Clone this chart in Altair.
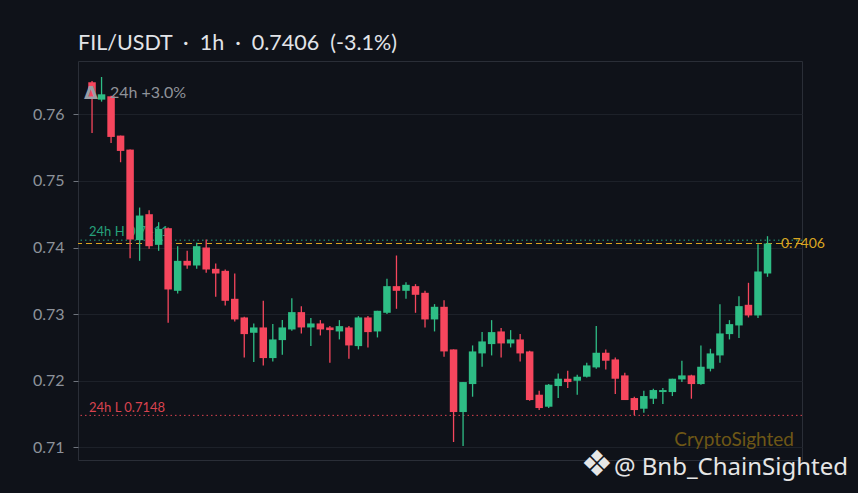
import altair as alt
import pandas as pd

# ---- data (FIL/USDT 1h candles) ----
opens = [0.7648, 0.7622, 0.7627, 0.7568, 0.7547, 0.7411, 0.7450, 0.7404, 0.7429, 0.7335,
         0.7380, 0.7373, 0.7400, 0.7368, 0.7365, 0.7323, 0.7295, 0.7272, 0.7280, 0.7234,
         0.7261, 0.7277, 0.7303, 0.7280, 0.7286, 0.7280, 0.7274, 0.7280, 0.7252, 0.7295,
         0.7274, 0.7302, 0.7342, 0.7335, 0.7342, 0.7332, 0.7292, 0.7311, 0.7247, 0.7153,
         0.7195, 0.7241, 0.7255, 0.7274, 0.7256, 0.7262, 0.7244, 0.7179, 0.7161, 0.7192,
         0.7203, 0.7200, 0.7206, 0.7220, 0.7242, 0.7232, 0.7208, 0.7174, 0.7158, 0.7173,
         0.7183, 0.7183, 0.7202, 0.7208, 0.7195, 0.7218, 0.7238, 0.7270, 0.7283, 0.7314,
         0.7298, 0.7361]
highs = [0.7650, 0.7656, 0.7628, 0.7568, 0.7547, 0.7460, 0.7456, 0.7438, 0.7430, 0.7402,
         0.7395, 0.7407, 0.7412, 0.7376, 0.7367, 0.7361, 0.7296, 0.7286, 0.7320, 0.7285,
         0.7291, 0.7324, 0.7312, 0.7294, 0.7291, 0.7282, 0.7291, 0.7282, 0.7297, 0.7297,
         0.7305, 0.7353, 0.7388, 0.7348, 0.7345, 0.7335, 0.7315, 0.7321, 0.7247, 0.7198,
         0.7253, 0.7273, 0.7291, 0.7279, 0.7276, 0.7270, 0.7245, 0.7185, 0.7195, 0.7211,
         0.7215, 0.7209, 0.7227, 0.7282, 0.7247, 0.7235, 0.7212, 0.7176, 0.7185, 0.7188,
         0.7189, 0.7203, 0.7230, 0.7209, 0.7253, 0.7248, 0.7315, 0.7291, 0.7327, 0.7347,
         0.7405, 0.7417]
lows = [0.7572, 0.7619, 0.7557, 0.7528, 0.7384, 0.7380, 0.7398, 0.7395, 0.7287, 0.7331,
        0.7368, 0.7368, 0.7362, 0.7326, 0.7313, 0.7289, 0.7235, 0.7228, 0.7223, 0.7229,
        0.7239, 0.7275, 0.7271, 0.7252, 0.7268, 0.7227, 0.7262, 0.7233, 0.7247, 0.7250,
        0.7265, 0.7300, 0.7308, 0.7323, 0.7302, 0.7280, 0.7274, 0.7236, 0.7108, 0.7102,
        0.7176, 0.7221, 0.7238, 0.7235, 0.7250, 0.7229, 0.7170, 0.7156, 0.7159, 0.7174,
        0.7189, 0.7179, 0.7205, 0.7218, 0.7217, 0.7180, 0.7171, 0.7148, 0.7152, 0.7165,
        0.7165, 0.7177, 0.7198, 0.7173, 0.7194, 0.7214, 0.7227, 0.7262, 0.7264, 0.7295,
        0.7294, 0.7356]
closes = [0.7623, 0.7630, 0.7566, 0.7545, 0.7412, 0.7448, 0.7402, 0.7428, 0.7337, 0.7380,
          0.7373, 0.7402, 0.7367, 0.7361, 0.7320, 0.7292, 0.7270, 0.7280, 0.7234, 0.7262,
          0.7280, 0.7303, 0.7280, 0.7286, 0.7277, 0.7276, 0.7282, 0.7253, 0.7295, 0.7273,
          0.7305, 0.7342, 0.7335, 0.7344, 0.7329, 0.7292, 0.7311, 0.7244, 0.7153, 0.7198,
          0.7244, 0.7259, 0.7273, 0.7256, 0.7262, 0.7241, 0.7171, 0.7159, 0.7194, 0.7203,
          0.7198, 0.7206, 0.7223, 0.7242, 0.7230, 0.7203, 0.7171, 0.7156, 0.7177, 0.7186,
          0.7186, 0.7203, 0.7208, 0.7195, 0.7221, 0.7241, 0.7271, 0.7285, 0.7312, 0.7298,
          0.7364, 0.7406]

y_ticks = [0.71, 0.72, 0.73, 0.74, 0.75, 0.76]
last_price = 0.7406
high_24h = 0.7411
low_24h = 0.7148
title_text = "FIL/USDT\u00a0\u00a0·\u00a0\u00a01h\u00a0\u00a0·\u00a0\u00a00.7406\u00a0\u00a0(-3.1%)"
change_text = "24h +3.0%"

BG = "#0f1219"
GREEN = "#2ebd85"
RED = "#f6465d"
GOLD = "#d9a521"

candles = pd.DataFrame({
    "i": list(range(len(opens))),
    "open": opens, "high": highs, "low": lows, "close": closes,
})
candles["dir"] = ["up" if c >= o else "down" for o, c in zip(opens, closes)]

W, H = 724, 399
xscale = alt.Scale(domain=[-0.95, 74.1], nice=False, zero=False)
yscale = alt.Scale(domain=[0.7081, 0.7680], nice=False, zero=False)
cscale = alt.Scale(domain=["up", "down"], range=[GREEN, RED])

base = alt.Chart(candles)

wicks = base.mark_rule(strokeWidth=1.3).encode(
    x=alt.X("i:Q", scale=xscale, axis=None),
    y=alt.Y("low:Q", scale=yscale,
            axis=alt.Axis(values=y_ticks, format=".2f", title=None, grid=True,
                          gridColor="#1d2129", gridWidth=1, domain=False,
                          ticks=True, tickSize=5, tickColor="#6f747d",
                          labelColor="#8d929b", labelFontSize=16, labelFont="Lato",
                          labelPadding=9)),
    y2="high:Q",
    color=alt.Color("dir:N", scale=cscale, legend=None),
)
bodies = base.mark_bar(size=7.5).encode(
    x=alt.X("i:Q", scale=xscale),
    y=alt.Y("open:Q", scale=yscale),
    y2="close:Q",
    color=alt.Color("dir:N", scale=cscale, legend=None),
)

levels = pd.DataFrame({"price": [last_price]})
hl = pd.DataFrame({"price": [high_24h], "label": ["24h H " + f"{high_24h:.4f}"]})
ll = pd.DataFrame({"price": [low_24h], "label": ["24h L " + f"{low_24h:.4f}"]})

price_line = alt.Chart(levels).mark_rule(color=GOLD, strokeWidth=1.2, strokeDash=[6, 4]).encode(
    y=alt.Y("price:Q", scale=yscale))
high_line = alt.Chart(hl).mark_rule(color="#26a17b", strokeWidth=1, strokeDash=[1.5, 3]).encode(
    y=alt.Y("price:Q", scale=yscale))
low_line = alt.Chart(ll).mark_rule(color="#d9434f", strokeWidth=1, strokeDash=[1.5, 3]).encode(
    y=alt.Y("price:Q", scale=yscale))
high_lbl = alt.Chart(hl).mark_text(color="#26a17b", fontSize=13, font="Lato", align="left",
                                   baseline="alphabetic", dy=-4).encode(
    x=alt.value(11), y=alt.Y("price:Q", scale=yscale), text="label:N")
low_lbl = alt.Chart(ll).mark_text(color="#d9434f", fontSize=13, font="Lato", align="left",
                                  baseline="alphabetic", dy=-3).encode(
    x=alt.value(11), y=alt.Y("price:Q", scale=yscale), text="label:N")
price_lbl = alt.Chart(pd.DataFrame({"price": [last_price], "t": [f"{last_price:.4f}"]})).mark_text(
    color=GOLD, fontSize=14, font="Lato", align="left", baseline="middle").encode(
    x=alt.value(703), y=alt.Y("price:Q", scale=yscale), text="t:N")

title = alt.Chart(pd.DataFrame({"t": [title_text]})).mark_text(
    color="#e2e4e8", fontSize=21.5, font="Lato", align="left", baseline="alphabetic").encode(
    x=alt.value(0), y=alt.value(-11), text="t:N")
delta = alt.Chart(pd.DataFrame({"t": ["Δ"]})).mark_text(
    color="#9a9ea5", fontSize=18, font="DejaVu Sans", fontWeight="bold", align="center",
    baseline="alphabetic").encode(x=alt.value(13), y=alt.value(38), text="t:N")
change = alt.Chart(pd.DataFrame({"t": [change_text]})).mark_text(
    color="#8f939a", fontSize=16, font="Lato", align="left", baseline="alphabetic").encode(
    x=alt.value(32), y=alt.value(37), text="t:N")
wm1 = alt.Chart(pd.DataFrame({"t": ["CryptoSighted"]})).mark_text(
    color="#6e5716", fontSize=19, font="Lato", align="right", baseline="alphabetic").encode(
    x=alt.value(716), y=alt.value(385), text="t:N")
wm_icon = alt.Chart(pd.DataFrame({"t": ["❖"]})).mark_text(
    color="#e6e6e6", fontSize=36, font="DejaVu Sans", align="center", baseline="middle").encode(
    x=alt.value(519), y=alt.value(404), text="t:N")
wm2 = alt.Chart(pd.DataFrame({"t": ["@ Bnb_ChainSighted"]})).mark_text(
    color="#e6e6e6", fontSize=24, font="Noto Sans", align="right", baseline="alphabetic").encode(
    x=alt.value(770), y=alt.value(414), text="t:N")

chart = alt.layer(
    high_line, low_line, price_line, high_lbl, low_lbl,
    wicks, bodies,
    price_lbl, title, delta, change, wm1, wm_icon, wm2,
).properties(
    width=W, height=H, background=BG,
    padding={"left": 70, "top": 53, "right": 48, "bottom": 25},
    autosize=alt.AutoSizeParams(type="none"),
).configure_view(stroke="#2a2e37", strokeWidth=1)

# Same page as altair's standard template, with the page background matched to the chart.
_template_src = """<!DOCTYPE html>
<html>
<head>
  <style>
    html, body { background: """ + BG + """; }
    #{{ output_div }}.vega-embed {
      width: 100%;
      display: flex;
    }
    #{{ output_div }}.vega-embed details,
    #{{ output_div }}.vega-embed details summary {
      position: relative;
    }
  </style>
  <script type="text/javascript" src="{{ base_url }}/vega@{{ vega_version }}"></script>
  {%- if mode == 'vega-lite' %}
  <script type="text/javascript" src="{{ base_url }}/vega-lite@{{ vegalite_version }}"></script>
  {%- endif %}
  <script type="text/javascript" src="{{ base_url }}/vega-embed@{{ vegaembed_version }}"></script>
</head>
<body>
  <div id="{{ output_div }}"></div>
  <script type="text/javascript">
    var spec = {{ spec }};
    var embedOpt = {{ embed_options }};
    function showError(el, error){
        el.innerHTML = ('<div style="color:red;"><p>JavaScript Error: ' + error.message + '</p></div>');
        throw error;
    }
    const el = document.getElementById('{{ output_div }}');
    vegaEmbed("#{{ output_div }}", spec, embedOpt)
      .catch(error => showError(el, error));
  </script>
</body>
</html>
"""

try:
    import jinja2
    chart.save("out.html", embed_options={"renderer": "svg", "actions": False},
               template=jinja2.Template(_template_src))
except Exception:
    chart.save("out.html", embed_options={"renderer": "svg", "actions": False})
